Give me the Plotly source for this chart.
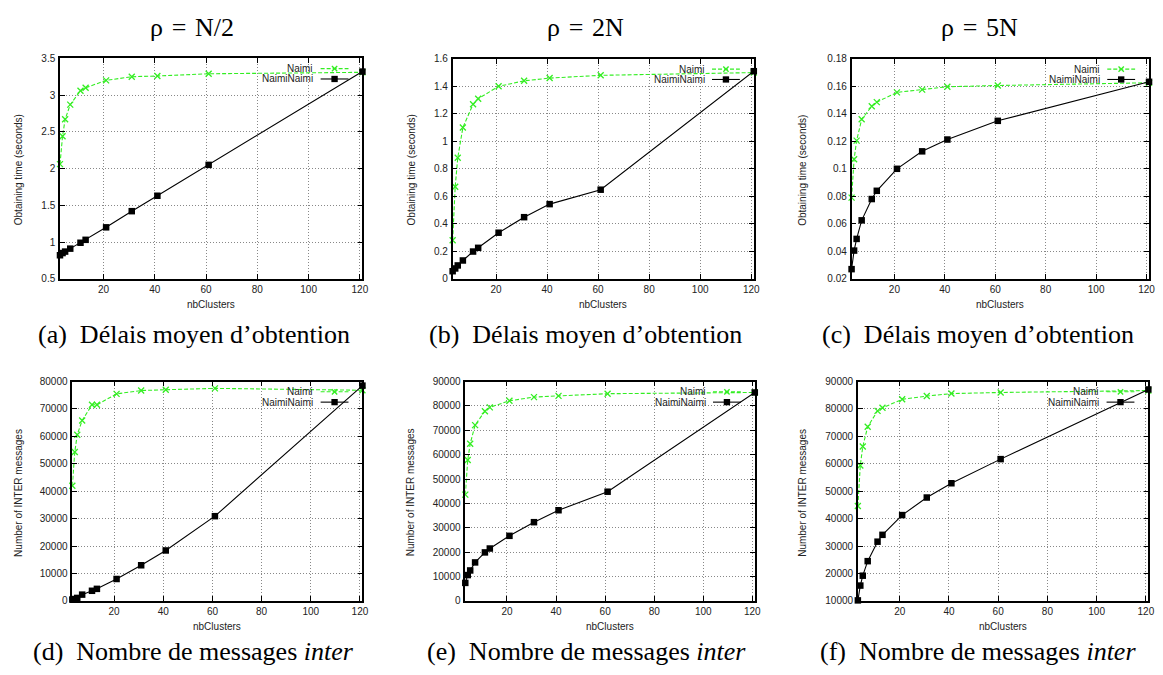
import plotly.graph_objects as go

W, H = 1163, 675

# ---------------- data ----------------
nb_clusters = [3, 4, 5, 7, 11, 13, 21, 31, 41, 61, 121]

a_naimi = [2.06, 2.44, 2.67, 2.87, 3.06, 3.10, 3.20, 3.25, 3.26, 3.29, 3.31]
a_naiminaimi = [0.82, 0.85, 0.87, 0.91, 0.99, 1.03, 1.20, 1.42, 1.63, 2.05, 3.32]

b_naimi = [0.28, 0.67, 0.88, 1.10, 1.27, 1.31, 1.40, 1.44, 1.46, 1.48, 1.50]
b_naiminaimi = [0.055, 0.075, 0.097, 0.133, 0.198, 0.225, 0.335, 0.448, 0.543, 0.648, 1.51]

c_naimi = [0.079, 0.107, 0.1205, 0.136, 0.1455, 0.1485, 0.1556, 0.1576, 0.1597, 0.1606, 0.1626]
c_naiminaimi = [0.027, 0.0405, 0.049, 0.0625, 0.078, 0.084, 0.100, 0.1127, 0.1213, 0.1349, 0.1633]

d_naimi = [42000, 54300, 60600, 65800, 71500, 71500, 75500, 76700, 77000, 77500, 76800]
d_naiminaimi = [500, 700, 1100, 2300, 3700, 4400, 8000, 13000, 18400, 30900, 78500]

e_naimi = [43600, 57800, 64500, 72100, 77800, 79400, 82100, 83600, 84100, 85000, 85500]
e_naiminaimi = [7400, 10600, 12500, 15800, 19900, 21500, 26700, 32300, 37200, 44800, 85500]

f_naimi = [44600, 59400, 66300, 73500, 79300, 80400, 83500, 84700, 85600, 86000, 86700]
f_naiminaimi = [10200, 15600, 19200, 24500, 31600, 34100, 41300, 47700, 52900, 61700, 87100]

series_names = ["Naimi", "NaimiNaimi"]
row_titles = ["ρ\u2004=\u2004N/2", "ρ\u2004=\u20042N", "ρ\u2004=\u20045N"]
captions = [
    "(a)\u00a0\u00a0Délais moyen d’obtention",
    "(b)\u00a0\u00a0Délais moyen d’obtention",
    "(c)\u00a0\u00a0Délais moyen d’obtention",
    "(d)\u00a0\u00a0Nombre de messages <i>inter</i>",
    "(e)\u00a0\u00a0Nombre de messages <i>inter</i>",
    "(f)\u00a0\u00a0Nombre de messages <i>inter</i>",
]
x_title = "nbClusters"
y_titles = ["Obtaining time (seconds)"] * 3 + ["Number of INTER messages"] * 3

panels_naimi = [a_naimi, b_naimi, c_naimi, d_naimi, e_naimi, f_naimi]
panels_nn = [a_naiminaimi, b_naiminaimi, c_naiminaimi, d_naiminaimi, e_naiminaimi, f_naiminaimi]
y_ranges = [[0.5, 3.5], [0, 1.6], [0.02, 0.18], [0, 80000], [0, 90000], [10000, 90000]]
y_dticks = [0.5, 0.2, 0.02, 10000, 10000, 10000]
x_range = [3, 121]

# ---------------- layout (pixels) ----------------
boxes = [
    (60.3, 364.3, 53.3, 277.7),
    (455.0, 757.7, 53.8, 277.7),
    (856.0, 1155.0, 53.8, 277.7),
    (72.7, 364.3, 382.3, 605.7),
    (467.7, 758.7, 382.3, 605.7),
    (862.3, 1154.3, 382.3, 605.7),
]
ytitle_x = [18.3, 413.3, 806.7, 18.3, 412.7, 807.3]
title_x = [193, 589, 985]
caption_x = [195, 589, 983, 195, 590, 983]
caption_y = [334, 334, 334, 657, 657, 657]

GREEN = "#33ee22"
TICKFONT = dict(family="Liberation Sans, Arial, sans-serif", size=10, color="#222")

fig = go.Figure()
annotations = []
shapes = []

for i in range(6):
    l, r, t, b = boxes[i]
    ax = "" if i == 0 else str(i + 1)
    xa, ya = "x" + ax, "y" + ax
    fig.add_trace(go.Scatter(
        x=nb_clusters, y=panels_naimi[i], name=series_names[0], xaxis=xa, yaxis=ya,
        mode="lines+markers", cliponaxis=False,
        line=dict(color=GREEN, width=1.1, dash="4px,2px"),
        marker=dict(symbol="x-thin", size=6, line=dict(color=GREEN, width=1.3), color=GREEN),
        showlegend=False, hoverinfo="skip"))
    fig.add_trace(go.Scatter(
        x=nb_clusters, y=panels_nn[i], name=series_names[1], xaxis=xa, yaxis=ya,
        mode="lines+markers", cliponaxis=False,
        line=dict(color="black", width=1.1),
        marker=dict(symbol="square", size=6.5, color="black"),
        showlegend=False, hoverinfo="skip"))

    common = dict(showline=True, linecolor="black", linewidth=1.5, mirror="ticks",
                  ticks="inside", ticklen=5, tickcolor="black", tickwidth=1,
                  showgrid=True, gridcolor="#888", griddash="1px,2px", gridwidth=1,
                  zeroline=False, tickfont=TICKFONT)
    fig.layout["xaxis" + ax] = dict(
        domain=[l / W, r / W], anchor=ya, range=x_range, tick0=0, dtick=20, **common)
    fig.layout["yaxis" + ax] = dict(
        domain=[1 - b / H, 1 - t / H], anchor=xa, range=y_ranges[i], tick0=0,
        dtick=y_dticks[i], tickformat="d" if y_dticks[i] >= 1 else None,
        ticklabelstandoff=1, **common)

    pw, ph = r - l, b - t
    xd = lambda off: 1 - off / pw
    yd = lambda off: 1 - off / ph
    xdom, ydom = xa + " domain", ya + " domain"
    rows = [10.5, 21]
    # legend texts
    for k, name in enumerate(series_names):
        annotations.append(dict(
            text=name, xref=xdom, yref=ydom, x=xd(47.5), y=yd(rows[k]),
            xanchor="right", yanchor="middle", showarrow=False,
            font=dict(family="Liberation Sans, Arial, sans-serif", size=10, color="#222")))
    # legend samples
    shapes.append(dict(type="line", xref=xdom, yref=ydom, x0=xd(42), x1=xd(14),
                       y0=yd(rows[0]), y1=yd(rows[0]),
                       line=dict(color=GREEN, width=1.1, dash="4px,2px")))
    shapes.append(dict(type="line", xref=xdom, yref=ydom, x0=xd(42), x1=xd(14),
                       y0=yd(rows[1]), y1=yd(rows[1]),
                       line=dict(color="black", width=1.1)))
    mx = 28
    for s in (-1, 1):
        shapes.append(dict(type="line", xref=xdom, yref=ydom,
                           x0=xd(mx + 2.7), x1=xd(mx - 2.7),
                           y0=yd(rows[0] + 2.7 * s), y1=yd(rows[0] - 2.7 * s),
                           line=dict(color=GREEN, width=1.3)))
    shapes.append(dict(type="rect", xref=xdom, yref=ydom,
                       x0=xd(mx + 3.2), x1=xd(mx - 3.2),
                       y0=yd(rows[1] + 3.2), y1=yd(rows[1] - 3.2),
                       fillcolor="black", line=dict(width=0)))

    # axis titles
    annotations.append(dict(
        text=x_title, xref="paper", yref="paper", x=(l + r) / 2 / W,
        y=1 - (b + 26.5) / H, xanchor="center", yanchor="middle", showarrow=False,
        font=dict(family="Liberation Sans, Arial, sans-serif", size=10, color="#222")))
    annotations.append(dict(
        text=y_titles[i], xref="paper", yref="paper", x=ytitle_x[i] / W,
        y=1 - ((t + b) / 2 + 1.5) / H, xanchor="center", yanchor="middle",
        textangle=-90, showarrow=False,
        font=dict(family="Liberation Sans, Arial, sans-serif", size=10, color="#222")))
    # caption
    annotations.append(dict(
        text=captions[i], xref="paper", yref="paper", x=caption_x[i] / W,
        y=1 - caption_y[i] / H, xanchor="center", yanchor="middle", showarrow=False,
        font=dict(family="Liberation Serif, Times New Roman, serif", size=26, color="black")))

for j in range(3):
    annotations.append(dict(
        text=row_titles[j], xref="paper", yref="paper", x=title_x[j] / W,
        y=1 - 22 / H, xanchor="center", yanchor="middle", showarrow=False,
        font=dict(family="Liberation Serif, Times New Roman, serif", size=26, color="black")))

fig.update_layout(
    width=W, height=H, margin=dict(l=0, r=0, t=0, b=0),
    paper_bgcolor="white", plot_bgcolor="white",
    annotations=annotations, shapes=shapes, showlegend=False)

fig.write_html("out.html", config={"displayModeBar": False},
               post_script="document.body.style.margin='0';document.body.style.overflow='hidden';")
